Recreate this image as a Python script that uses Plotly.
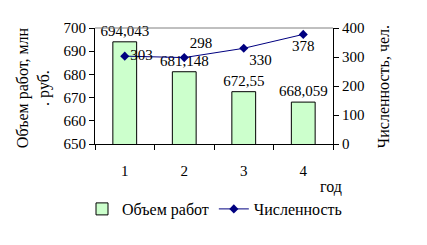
import plotly.graph_objects as go

years = ["1", "2", "3", "4"]
volume = [694.043, 681.148, 672.55, 668.059]
staff = [303, 298, 330, 378]
staff_text_pos = ["middle right", "top right", "bottom right", "bottom center"]

FONT = "Liberation Serif"
fs = 15
fs_t = 16

fig = go.Figure()
fig.add_trace(go.Bar(
    x=years, y=volume, name="Объем работ",
    marker=dict(color="#CCFFCC", line=dict(color="black", width=1)),
    width=0.4,
    text=[f"{v}".replace(".", ",") for v in volume],
    textposition="outside", cliponaxis=False, constraintext="none",
    textfont=dict(family=FONT, size=fs, color="black"),
))
fig.add_trace(go.Scatter(
    x=years, y=staff, name="Численность", yaxis="y2",
    mode="lines+markers+text",
    line=dict(color="#000080", width=1),
    marker=dict(symbol="diamond", size=7, color="#000080"),
    text=[str(s) for s in staff], textposition=staff_text_pos,
    cliponaxis=False,
    textfont=dict(family=FONT, size=fs, color="black"),
))

fig.update_layout(
    width=427, height=245,
    margin=dict(l=95, r=94, t=28, b=101),
    paper_bgcolor="white", plot_bgcolor="white",
    font=dict(family=FONT, size=fs, color="black"),
    showlegend=True,
    legend=dict(orientation="h", x=(82 - 95) / 238, xanchor="left",
                y=(144 - 209) / 116, yanchor="middle",
                font=dict(family=FONT, size=fs_t), itemwidth=30, tracegroupgap=0,
                bgcolor="rgba(0,0,0,0)"),
    xaxis=dict(type="category", tickson="boundaries", ticks="outside", ticklen=5,
               tickcolor="black", showline=True, linecolor="black", showgrid=False,
               ticklabelstandoff=13, zeroline=False),
    yaxis=dict(range=[650, 700], dtick=10, ticks="outside", ticklen=5, tickcolor="black",
               showline=True, linecolor="black", showgrid=False, zeroline=False),
    yaxis2=dict(range=[0, 400], dtick=100, overlaying="y", side="right", ticks="outside",
                ticklen=5, tickcolor="black", showline=True, linecolor="black",
                showgrid=False, zeroline=False),
    shapes=[dict(type="line", xref="paper", yref="paper", x0=0, x1=1, y0=1, y1=1,
                 line=dict(color="#808080", width=1))],
    annotations=[
        dict(text="Объем работ, млн<br>. руб.", xref="paper", yref="paper",
             x=(33 - 95) / 238, y=0.49, textangle=-90, showarrow=False,
             xanchor="center", yanchor="middle", font=dict(family=FONT, size=fs_t)),
        dict(text="Численность, чел.", xref="paper", yref="paper",
             x=(383 - 95) / 238, y=0.49, textangle=-90, showarrow=False,
             xanchor="center", yanchor="middle", font=dict(family=FONT, size=fs_t)),
        dict(text="год", xref="paper", yref="paper", x=(331 - 95) / 238, y=(144 - 187) / 116,
             showarrow=False, xanchor="center", yanchor="middle", font=dict(family=FONT, size=fs_t)),
    ],
)

fig.write_html("out.html")
